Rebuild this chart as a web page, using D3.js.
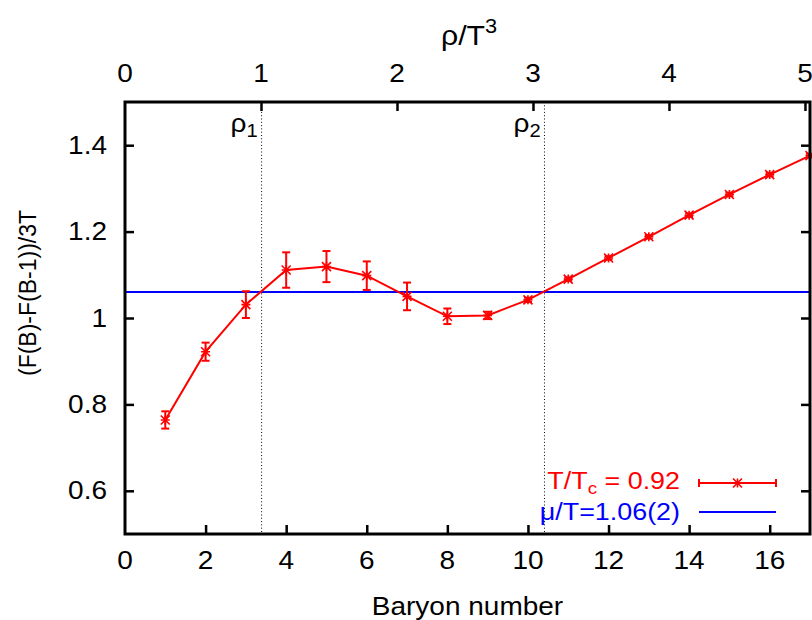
<!DOCTYPE html>
<html>
<head>
<meta charset="utf-8">
<script src="https://cdn.jsdelivr.net/npm/d3@7"></script>
<style>
  html, body { margin: 0; padding: 0; background: #fff; }
  svg { display: block; }
  text { font-family: "Liberation Sans", Arial, Helvetica, sans-serif; }
</style>
</head>
<body>
<svg id="chart" width="812" height="620"></svg>
<script>
// ---------------- data ----------------
const baryon = [1, 2, 3, 4, 5, 6, 7, 8, 9, 10, 11, 12, 13, 14, 15, 16, 17];
const deltaF = [0.764, 0.922, 1.031, 1.111, 1.119, 1.098, 1.050, 1.004, 1.006, 1.042, 1.090, 1.139, 1.188, 1.238, 1.286, 1.332, 1.376];
const deltaFErr = [0.020, 0.021, 0.031, 0.041, 0.036, 0.033, 0.032, 0.018, 0.0085, 0.005, 0.004, 0.004, 0.004, 0.004, 0.004, 0.004, 0.004];
const muOverT = 1.06;
const rhoMarkB = [3.39, 10.41];          // baryon number where the dotted lines sit
const rhoMarkSub = ["1", "2"];
const xTickValues = [0, 2, 4, 6, 8, 10, 12, 14, 16];
const yTickValues = [0.6, 0.8, 1.0, 1.2, 1.4];
const yTickLabels = ["0.6", "0.8", "1", "1.2", "1.4"];
const topTickValues = [0, 1, 2, 3, 4, 5];
const rhoPerBaryon = 8 / 27;             // rho/T^3 per unit baryon number
const xDomain = [0, 17];
const yDomain = [0.5, 1.5];
const legendSeries = "T/T";
const legendSeriesSub = "c";
const legendSeriesRest = " = 0.92";
const legendMu = "\u03BC/T=1.06(2)";

// ---------------- layout ----------------
const L = 125, R = 810, T = 102, B = 534;
const FS = 25, SX = 1.12;
const RED = "#ff0000", BLUE = "#0000ff";

const svg = d3.select("#chart");
const x = d3.scaleLinear().domain(xDomain).range([L, R]);
const x2 = d3.scaleLinear().domain([xDomain[0] * rhoPerBaryon, xDomain[1] * rhoPerBaryon]).range([L, R]);
const y = d3.scaleLinear().domain(yDomain).range([B, T]);

function stretchedText(px, py, anchor, color, fs) {
  return svg.append("text")
    .attr("transform", `translate(${px},${py}) scale(${SX},1)`)
    .attr("text-anchor", anchor)
    .attr("font-size", fs || FS)
    .attr("fill", color || "#000");
}

// ---------------- axes (inward ticks) ----------------
const tickLen = 9;
svg.append("g").attr("transform", `translate(0,${B})`)
  .call(d3.axisBottom(x).tickValues(xTickValues.filter(v => v > 0)).tickSize(-tickLen).tickFormat(""))
  .call(g => g.select(".domain").remove())
  .call(g => g.selectAll("line").attr("stroke", "#000").attr("stroke-width", 2.5));
svg.append("g").attr("transform", `translate(0,${T})`)
  .call(d3.axisTop(x2).tickValues(topTickValues.filter(v => v > 0)).tickSize(-tickLen).tickFormat(""))
  .call(g => g.select(".domain").remove())
  .call(g => g.selectAll("line").attr("stroke", "#000").attr("stroke-width", 2.5));
svg.append("g").attr("transform", `translate(${L},0)`)
  .call(d3.axisLeft(y).tickValues(yTickValues).tickSize(-tickLen).tickFormat(""))
  .call(g => g.select(".domain").remove())
  .call(g => g.selectAll("line").attr("stroke", "#000").attr("stroke-width", 2.5));
svg.append("g").attr("transform", `translate(${R},0)`)
  .call(d3.axisRight(y).tickValues(yTickValues).tickSize(-tickLen).tickFormat(""))
  .call(g => g.select(".domain").remove())
  .call(g => g.selectAll("line").attr("stroke", "#000").attr("stroke-width", 2.5));

// tick labels
xTickValues.forEach(v => stretchedText(x(v), 569, "middle").text(v));
topTickValues.forEach(v => stretchedText(x2(v), 82, "middle").text(v));
yTickValues.forEach((v, i) => stretchedText(107, y(v) + 8.6, "end").text(yTickLabels[i]));

// axis titles
stretchedText((L + R) / 2, 615, "middle").text("Baryon number");
{
  const t = stretchedText(441, 45, "start", "#000", 27);
  t.append("tspan").text("\u03C1/T");
  t.append("tspan").attr("dy", -12).attr("font-size", 27 * 0.72).text("3");
}
svg.append("text")
  .attr("transform", "translate(36,293) rotate(-90)")
  .attr("text-anchor", "middle")
  .attr("font-size", 23)
  .text("(F(B)-F(B-1))/3T");

// ---------------- dotted rho lines ----------------
rhoMarkB.forEach((b, i) => {
  svg.append("line")
    .attr("x1", x(b)).attr("x2", x(b)).attr("y1", T).attr("y2", B)
    .attr("stroke", "#000").attr("stroke-width", 1)
    .attr("stroke-dasharray", "1,2.3");
  const t = stretchedText(x(b) - 31, 132, "start");
  t.append("tspan").text("\u03C1");
  t.append("tspan").attr("dy", 5).attr("font-size", FS * 0.72).text(rhoMarkSub[i]);
});

// ---------------- mu/T line ----------------
svg.append("line")
  .attr("x1", L).attr("x2", R).attr("y1", y(muOverT)).attr("y2", y(muOverT))
  .attr("stroke", BLUE).attr("stroke-width", 2);

// ---------------- data series ----------------
const pts = baryon.map((b, i) => ({ b, v: deltaF[i], e: deltaFErr[i] }));
svg.append("path")
  .datum(pts)
  .attr("fill", "none").attr("stroke", RED).attr("stroke-width", 2)
  .attr("d", d3.line().x(d => x(d.b)).y(d => y(d.v)));

const capW = 4;
const eb = svg.append("g").attr("stroke", RED).attr("stroke-width", 2).attr("fill", "none");
pts.forEach(d => {
  const cx = x(d.b), y1 = y(d.v - d.e), y2 = y(d.v + d.e);
  eb.append("line").attr("x1", cx).attr("x2", cx).attr("y1", y1).attr("y2", y2);
  eb.append("line").attr("x1", cx - capW).attr("x2", cx + capW).attr("y1", y1).attr("y2", y1);
  eb.append("line").attr("x1", cx - capW).attr("x2", cx + capW).attr("y1", y2).attr("y2", y2);
});

function star(g, cx, cy, r) {
  const p = `M${cx - r},${cy}H${cx + r}M${cx},${cy - r}V${cy + r}` +
            `M${cx - r},${cy - r}L${cx + r},${cy + r}M${cx - r},${cy + r}L${cx + r},${cy - r}`;
  g.append("path").attr("d", p).attr("stroke", RED).attr("stroke-width", 1.6).attr("fill", "none");
}
const mk = svg.append("g");
pts.forEach(d => star(mk, x(d.b), y(d.v), 4.5));

// ---------------- frame ----------------
svg.append("rect")
  .attr("x", L).attr("y", T).attr("width", R - L).attr("height", B - T)
  .attr("fill", "none").attr("stroke", "#000").attr("stroke-width", 3);

// ---------------- legend ----------------
{
  const t = stretchedText(680, 489, "end", RED, 24);
  t.append("tspan").text(legendSeries);
  t.append("tspan").attr("dy", 5).attr("font-size", 24 * 0.7).text(legendSeriesSub);
  t.append("tspan").attr("dy", -5).text(legendSeriesRest);
  const ly = 483, lx1 = 699, lx2 = 776;
  const lg = svg.append("g").attr("stroke", RED).attr("stroke-width", 2);
  lg.append("line").attr("x1", lx1).attr("x2", lx2).attr("y1", ly).attr("y2", ly);
  lg.append("line").attr("x1", lx1).attr("x2", lx1).attr("y1", ly - 4).attr("y2", ly + 4);
  lg.append("line").attr("x1", lx2).attr("x2", lx2).attr("y1", ly - 4).attr("y2", ly + 4);
  star(svg, (lx1 + lx2) / 2, ly, 4.5);

  stretchedText(680, 520, "end", BLUE, 24).text(legendMu);
  svg.append("line").attr("x1", lx1).attr("x2", lx2).attr("y1", 512).attr("y2", 512)
    .attr("stroke", BLUE).attr("stroke-width", 2);
}
</script>
</body>
</html>
